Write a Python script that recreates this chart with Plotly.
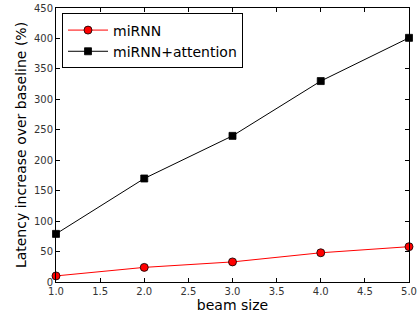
import plotly.graph_objects as go

beam = [1.0, 2.0, 3.0, 4.0, 5.0]
mirnn = [10, 24, 33, 48, 58]
mirnn_att = [79, 170, 240, 330, 401]

fig = go.Figure()
fig.add_trace(go.Scatter(x=beam, y=mirnn, mode="lines+markers", name="miRNN",
                         line=dict(color="red", width=1),
                         marker=dict(symbol="circle", size=8, color="red",
                                     line=dict(color="black", width=0.8)),
                         cliponaxis=False))
fig.add_trace(go.Scatter(x=beam, y=mirnn_att, mode="lines+markers", name="miRNN+attention",
                         line=dict(color="black", width=1),
                         marker=dict(symbol="square", size=7, color="black",
                                     line=dict(color="black", width=0.8)),
                         cliponaxis=False))

axis_common = dict(showline=True, linecolor="black", linewidth=1, mirror="ticks",
                   ticks="inside", ticklen=4, tickcolor="black", showgrid=False,
                   zeroline=False, automargin=False,
                   tickfont=dict(family="DejaVu Sans", size=10, color="#333333"))
fig.update_xaxes(range=[1.0, 5.0], dtick=0.5, tickformat=".1f",
                 title=dict(text="beam size", font=dict(family="DejaVu Sans", size=14, color="black"),
                            standoff=1),
                 **axis_common)
fig.update_yaxes(range=[0, 450], dtick=50,
                 title=dict(text="Latency increase over baseline (%)",
                            font=dict(family="DejaVu Sans", size=14, color="black"), standoff=4),
                 **axis_common)

fig.update_layout(
    width=417, height=316,
    margin=dict(l=56, r=8, t=8, b=34),
    plot_bgcolor="white", paper_bgcolor="white",
    showlegend=True,
    legend=dict(x=0.017, y=0.98, xanchor="left", yanchor="top",
                bgcolor="white", bordercolor="black", borderwidth=1,
                font=dict(family="DejaVu Sans", size=14, color="black"),
                tracegroupgap=0, itemwidth=40),
)
fig.write_html("out.html", config={"displayModeBar": False},
               post_script="document.body.style.margin='0';")
